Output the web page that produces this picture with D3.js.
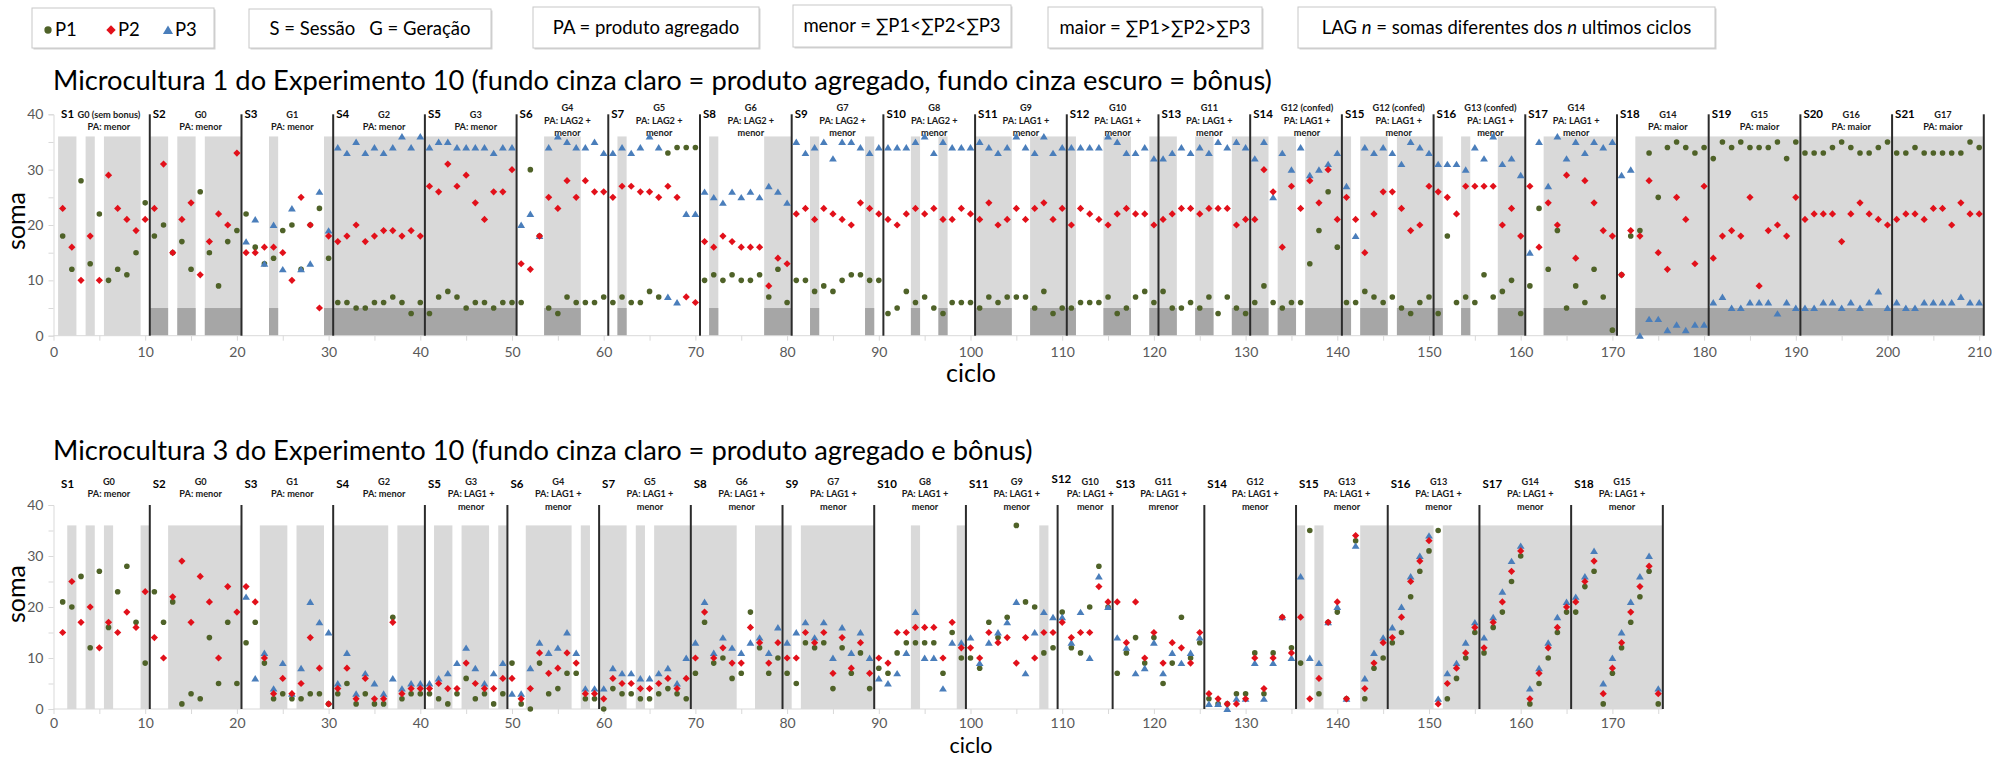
<!DOCTYPE html>
<html>
<head>
<meta charset="utf-8">
<script src="https://cdn.jsdelivr.net/npm/d3@7"></script>
<style>
  body { margin: 0; background: #fff; }
  svg { display: block; font-family: Lato, "Open Sans", sans-serif; }
</style>
</head>
<body>
<div id="graphic"></div>
<script>
// ---------- DATA: Microcultura 1 (cycles 1..210) ----------
const topP1 = [
  18, 12, 28, 13, 22, 10, 12, 11, 15, 24,
  18, 20, 15, 17, 12, 26, 15, 9, 17, 19,
  22, 16, 13, 14, 19, 20, 12, 20, 23, 14,
  6, 6, 5, 5, 6, 6, 7, 6, 4, 6,
  4, 7, 8, 7, 5, 6, 6, 5, 6, 6,
  6, 30, 18, 5, 4, 7, 6, 6, 6, 7,
  6, 7, 6, 6, 8, 7, 33, 34, 34, 34,
  10, 11, 10, 11, 10, 10, 11, 7, 12, 6,
  10, 10, 8, 9, 8, 10, 11, 11, 10, 10,
  4, 5, 8, 6, 7, 5, 4, 6, 6, 6,
  5, 7, 6, 7, 7, 7, 5, 8, 4, 5,
  5, 6, 6, 6, 7, 4, 5, 7, 8, 6,
  8, 5, 5, 6, 5, 7, 4, 7, 5, 4,
  6, 9, 6, 5, 6, 6, 13, 19, 26, 16,
  6, 6, 8, 7, 6, 7, 5, 4, 6, 7,
  4, 18, 6, 7, 6, 11, 7, 8, 10, 4,
  9, 23, 12, 19, 5, 9, 6, 12, 7, 1,
  11, 18, 19, 33, 25, 34, 35, 34, 33, 34,
  32, 35, 34, 35, 34, 34, 34, 35, 32, 35,
  33, 33, 33, 34, 35, 34, 33, 33, 34, 35,
  33, 33, 34, 33, 33, 33, 33, 33, 35, 34
];
const topP2 = [
  23, 16, 10, 18, 10, 29, 23, 21, 19, 21,
  23, 31, 15, 21, 24, 11, 17, 22, 20, 33,
  15, 15, 16, 16, 15, 10, 25, 20, 5, 18,
  17, 18, 20, 17, 18, 19, 19, 18, 19, 18,
  27, 26, 31, 27, 29, 24, 21, 26, 26, 30,
  13, 12, 18, 25, 23, 28, 25, 28, 26, 26,
  25, 27, 27, 26, 26, 25, 27, 25, 7, 6,
  17, 16, 18, 17, 16, 16, 16, 9, 14, 13,
  22, 23, 21, 23, 22, 21, 20, 24, 23, 22,
  21, 20, 22, 23, 22, 23, 21, 21, 23, 22,
  21, 24, 20, 21, 23, 21, 23, 24, 21, 23,
  20, 23, 22, 21, 20, 22, 23, 22, 22, 20,
  21, 22, 23, 23, 22, 23, 23, 23, 20, 21,
  21, 30, 26, 16, 27, 23, 28, 24, 30, 21,
  25, 21, 15, 22, 26, 26, 23, 19, 20, 27,
  26, 25, 22, 27, 27, 27, 27, 20, 23, 18,
  27, 16, 24, 20, 29, 14, 28, 24, 19, 18,
  11, 19, 18, 28, 15, 12, 25, 21, 13, 27,
  14, 18, 19, 18, 25, 9, 19, 20, 18, 25,
  21, 22, 22, 22, 17, 22, 24, 22, 21, 20,
  21, 22, 22, 21, 23, 23, 20, 24, 22, 22
];
const topP3 = [
  null, null, null, null, null, null, null, null, null, null,
  null, null, null, null, null, null, null, null, null, null,
  17, 21, 13, 20, 12, 23, 12, 13, 26, 19,
  34, 33, 35, 33, 34, 33, 34, 36, 34, 36,
  34, 35, 35, 34, 34, 34, 34, 33, 34, 34,
  20, 22, 18, 34, 36, 35, 34, 34, 35, 33,
  33, 34, 33, 34, 36, 34, 7, 6, 22, 22,
  26, 25, 24, 26, 25, 26, 25, 27, 26, 24,
  35, 33, 34, 35, 32, 35, 35, 34, 33, 34,
  34, 34, 34, 35, 36, 33, 35, 34, 34, 34,
  35, 34, 33, 34, 36, 34, 33, 36, 33, 34,
  34, 34, 34, 34, 36, 35, 33, 33, 34, 32,
  32, 33, 34, 33, 34, 33, 35, 34, 35, 34,
  32, 35, 25, 33, 30, 34, 29, 30, 31, 33,
  27, 18, 34, 33, 34, 33, 31, 35, 34, 33,
  31, 31, 31, 30, 34, 32, 36, 31, 32, 29,
  15, 35, 27, 36, 32, 35, 33, 35, 34, 35,
  29, 30, 0, 3, 3, 1, 2, 1, 2, 2,
  6, 7, 5, 5, 6, 6, 6, 4, 6, 5,
  5, 5, 6, 6, 5, 6, 5, 6, 8, 5,
  6, 5, 5, 6, 6, 6, 6, 7, 6, 6
];
// cycles with "produto agregado" (light) and "bonus" (dark), [first, last]
const topLight = [[1, 2], [4, 4], [6, 9], [11, 12], [14, 15], [17, 20], [24, 24], [30, 50],
  [54, 57], [62, 62], [72, 72], [78, 80], [83, 83], [89, 89], [94, 94], [97, 97], [101, 104],
  [107, 111], [115, 117], [120, 122], [125, 126], [129, 132], [134, 135], [137, 141],
  [143, 145], [147, 151], [154, 154], [158, 160], [163, 170], [173, 210]];
const topDark = topLight.slice(3);
const topSessions = [0.5, 10.5, 20.5, 30.5, 40.5, 50.5, 60.5, 70.5, 80.5, 90.5, 100.5,
  110.5, 120.5, 130.5, 140.5, 150.5, 160.5, 170.5, 180.5, 190.5, 200.5, 210.5];
const topGroups = [
  ["G0 (sem bonus)", "PA: menor"], ["G0", "PA: menor"], ["G1", "PA: menor"],
  ["G2", "PA: menor"], ["G3", "PA: menor"],
  ["G4", "PA: LAG2 +", "menor"], ["G5", "PA: LAG2 +", "menor"], ["G6", "PA: LAG2 +", "menor"],
  ["G7", "PA: LAG2 +", "menor"], ["G8", "PA: LAG2 +", "menor"],
  ["G9", "PA: LAG1 +", "menor"], ["G10", "PA: LAG1 +", "menor"], ["G11", "PA: LAG1 +", "menor"],
  ["G12 (confed)", "PA: LAG1 +", "menor"], ["G12 (confed)", "PA: LAG1 +", "menor"],
  ["G13 (confed)", "PA: LAG1 +", "menor"], ["G14", "PA: LAG1 +", "menor"],
  ["G14", "PA: maior"], ["G15", "PA: maior"], ["G16", "PA: maior"], ["G17", "PA: maior"]
];
const topXTicks = [0, 10, 20, 30, 40, 50, 60, 70, 80, 90, 100, 110, 120, 130, 140, 150,
  160, 170, 180, 190, 200, 210];

// ---------- DATA: Microcultura 3 (cycles 1..175) ----------
const botP1 = [
  21, 20, 26, 12, 27, 16, 23, 28, 17, 9,
  23, 17, 21, 1, 3, 2, 14, 5, 17, 5,
  13, 17, 9, 2, 3, 2, 2, 3, 3, 1,
  3, 5, 1, 3, 1, 1, 18, 2, 3, 3,
  3, 2, 1, 3, 6, 2, 3, 1, 3, 9,
  1, 0, 9, 3, 4, 7, 7, 2, 2, 0,
  4, 3, 3, 2, 2, 3, 4, 3, 2, 7,
  17, 9, 10, 6, 7, 19, 12, 7, 10, 7,
  5, 13, 12, 13, 4, 12, 7, 11, 4, 8,
  7, 11, 13, 13, 13, 13, 7, 15, 10, 10,
  8, 17, 14, 18, 36, 21, 20, 11, 12, 19,
  12, 11, 20, 28, 20, 7, 11, 14, 9, 14,
  5, 9, 18, 10, 13, 2, 1, 1, 3, 3,
  11, 3, 11, 18, 12, 9, 35, 3, 17, 19,
  2, 33, 2, 8, 10, 13, 15, 22, 27, 31,
  35, 2, 6, 10, 15, 11, 16, 19, 25, 30,
  1, 5, 10, 15, 19, 19, 24, 27, 1, 7,
  12, 17, 22, 27, 1
];
const botP2 = [
  15, 25, 17, 20, 12, 17, 15, 19, 16, 23,
  14, 10, 22, 29, 17, 26, 21, 10, 24, 19,
  24, 21, 10, 3, 6, 3, 5, 14, 8, 1,
  4, 8, 2, 6, 2, 2, 17, 3, 4, 4,
  4, 5, 4, 4, 9, 5, 4, 4, 6, 6,
  2, 4, 11, 7, 8, 11, 9, 3, 3, 2,
  6, 5, 5, 4, 4, 5, 6, 4, 6, 10,
  19, 10, 12, 9, 9, 16, 13, 9, 13, 10,
  10, 15, 13, 15, 7, 14, 8, 13, 7, 10,
  9, 15, 15, 16, 16, 16, 10, 17, 12, 12,
  10, 15, 13, 14, 9, 14, 10, 15, 15, 17,
  14, 15, 15, 24, 21, 21, 13, 21, 10, 15,
  9, 13, 12, 9, 15, 3, 2, 1, 1, 2,
  10, 4, 10, 18, 11, 18, 2, 6, 17, 21,
  2, 34, 4, 9, 13, 14, 18, 25, 29, 33,
  1, 5, 8, 11, 16, 12, 17, 21, 27, 31,
  2, 7, 12, 16, 20, 21, 25, 29, 3, 8,
  13, 19, 24, 28, 3
];
const botP3 = [
  null, null, null, null, null, null, null, null, null, null,
  null, null, null, null, null, null, null, null, null, null,
  22, 6, 11, 4, 9, 3, 8, 21, 17, 15,
  5, 11, 3, 7, 5, 3, 6, 4, 5, 5,
  5, 6, 7, 9, 12, 8, 5, 7, 9, 3,
  3, 8, 13, 11, 12, 15, 11, 4, 4, 4,
  8, 7, 7, 6, 6, 7, 8, 5, 10, 13,
  21, 11, 14, 12, 11, 13, 14, 11, 16, 13,
  15, 17, 14, 17, 10, 16, 11, 15, 10, 6,
  5, 7, 11, 19, 10, 10, 4, 13, 13, 14,
  9, 13, 15, 17, 21, 7, 15, 19, 18, 18,
  13, 19, 10, 26, 20, 14, 12, 7, 8, 13,
  7, 11, 9, 11, 14, 1, 1, 0, 2, 2,
  9, 2, 9, 18, 10, 26, 10, 9, 17, 20,
  2, 32, 6, 11, 14, 16, 20, 26, 30, 34,
  2, 7, 9, 13, 17, 14, 18, 23, 29, 32,
  4, 8, 13, 18, 21, 22, 26, 31, 5, 10,
  15, 21, 26, 30, 4
];
const botLight = [[2, 2], [4, 4], [6, 6], [10, 10], [13, 20], [23, 25], [27, 29], [31, 36],
  [38, 40], [42, 43], [45, 47], [49, 49], [52, 56], [58, 58], [60, 62], [64, 64], [66, 74],
  [77, 80], [82, 89], [94, 94], [99, 99], [108, 108], [136, 136], [138, 138], [143, 150],
  [152, 175]];
const botSessions = [0.5, 10.5, 20.5, 30.5, 40.5, 49.5, 59.5, 69.5, 79.5, 89.5, 99.5,
  109.5, 115.5, 125.5, 135.5, 145.5, 155.5, 165.5, 175.5];
const botGroups = [
  ["G0", "PA: menor"], ["G0", "PA: menor"], ["G1", "PA: menor"], ["G2", "PA: menor"],
  ["G3", "PA: LAG1 +", "menor"], ["G4", "PA: LAG1 +", "menor"], ["G5", "PA: LAG1 +", "menor"],
  ["G6", "PA: LAG1 +", "menor"], ["G7", "PA: LAG1 +", "menor"], ["G8", "PA: LAG1 +", "menor"],
  ["G9", "PA: LAG1 +", "menor"], ["G10", "PA: LAG1 +", "menor"], ["G11", "PA: LAG1 +", "mrenor"],
  ["G12", "PA: LAG1 +", "menor"], ["G13", "PA: LAG1 +", "menor"], ["G13", "PA: LAG1 +", "menor"],
  ["G14", "PA: LAG1 +", "menor"], ["G15", "PA: LAG1 +", "menor"]
];
const botXTicks = [0, 10, 20, 30, 40, 50, 60, 70, 80, 90, 100, 110, 120, 130, 140, 150, 160, 170];
const yTicks = [0, 10, 20, 30, 40];

// ---------- STYLE ----------
const colors = { P1: "#4f6228", P2: "#e2101a", P3: "#4a7ebb" };
const shapes = {
  P1: "M2.8,0A2.8,2.8 0 1,1 -2.8,0A2.8,2.8 0 1,1 2.8,0Z",
  P2: "M0,-3.6L3.6,0L0,3.6L-3.6,0Z",
  P3: "M0,-3.4L3.9,3L-3.9,3Z"
};

const svg = d3.select("#graphic").append("svg")
  .attr("width", 1992).attr("height", 758);

// LEGEND BOXES
const boxes = [
  { x: 32, y: 8, w: 182, h: 40 },
  { x: 249, y: 9, w: 242, h: 39, text: "S = Sessão   G = Geração" },
  { x: 533, y: 7, w: 226, h: 41, text: "PA = produto agregado" },
  { x: 793, y: 5, w: 218, h: 42, text: "menor = ∑P1<∑P2<∑P3" },
  { x: 1048, y: 7, w: 214, h: 41, text: "maior = ∑P1>∑P2>∑P3" },
  { x: 1298, y: 7, w: 417, h: 41, lag: true }
];
const legend = svg.append("g");
boxes.forEach(b => {
  legend.append("rect").attr("x", b.x + 1.5).attr("y", b.y + 1.5)
    .attr("width", b.w).attr("height", b.h).attr("fill", "#d4d4d4");
  legend.append("rect").attr("x", b.x).attr("y", b.y)
    .attr("width", b.w).attr("height", b.h)
    .attr("fill", "#fff").attr("stroke", "#c8c8c8");
  const t = legend.append("text")
    .attr("x", b.x + b.w / 2).attr("y", b.y + b.h / 2 + 6)
    .attr("text-anchor", "middle")
    .style("font-size", "18.5px").style("white-space", "pre").attr("fill", "#000");
  if (b.text) t.text(b.text);
  if (b.lag) {
    t.append("tspan").text("LAG ");
    t.append("tspan").style("font-style", "italic").text("n");
    t.append("tspan").text(" = somas diferentes dos ");
    t.append("tspan").style("font-style", "italic").text("n");
    t.append("tspan").text(" ultimos ciclos");
  }
});
// series key inside first box
const keyItems = [["P1", 48], ["P2", 111], ["P3", 168]];
keyItems.forEach(([k, kx]) => {
  legend.append("path").attr("d", shapes[k]).attr("fill", colors[k])
    .attr("transform", `translate(${kx},30) scale(1.3)`);
  legend.append("text").attr("x", kx + 7).attr("y", 36)
    .style("font-size", "18.5px").text(k);
});

// TITLES
svg.append("text").attr("x", 53).attr("y", 90).style("font-size", "27.3px")
  .text("Microcultura 1 do Experimento 10 (fundo cinza claro = produto agregado, fundo cinza escuro = bônus)");
svg.append("text").attr("x", 53).attr("y", 460).style("font-size", "27.3px")
  .text("Microcultura 3 do Experimento 10 (fundo cinza claro = produto agregado e bônus)");

function drawChart(c) {
  const x = d3.scaleLinear().domain([0, c.xMax]).range([53.5, 53.5 + 9.17 * c.xMax]);
  const y = d3.scaleLinear().domain([0, 40]).range([c.bottom, c.top]);
  const g = svg.append("g");

  // backgrounds
  g.append("g").selectAll("rect").data(c.light).join("rect")
    .attr("x", d => x(d[0] - 0.5)).attr("width", d => x(d[1] + 0.5) - x(d[0] - 0.5))
    .attr("y", y(36)).attr("height", y(0) - y(36)).attr("fill", "#d9d9d9");
  g.append("g").selectAll("rect").data(c.dark).join("rect")
    .attr("x", d => x(d[0] - 0.5)).attr("width", d => x(d[1] + 0.5) - x(d[0] - 0.5))
    .attr("y", y(5)).attr("height", y(0) - y(5)).attr("fill", "#a6a6a6");

  // axes
  const xAxis = g.append("g").attr("transform", `translate(0,${y(0)})`)
    .call(d3.axisBottom(x).tickValues(d3.range(0, c.xMax, 5)).tickSize(5).tickPadding(c.xPad)
      .tickFormat(d => c.xTicks.includes(d) ? d : ""));
  const yAxis = g.append("g").attr("transform", `translate(${x(0)},0)`)
    .call(d3.axisLeft(y).tickValues(d3.range(0, 41, 5)).tickSize(5).tickPadding(5)
      .tickFormat(d => yTicks.includes(d) ? d : ""));
  [xAxis, yAxis].forEach(a => {
    a.select(".domain").attr("stroke", "#d9d9d9");
    a.selectAll(".tick line").attr("stroke", "#d9d9d9");
    a.selectAll(".tick text").attr("fill", "#595959").style("font-size", "14px")
      .style("font-family", "Lato, sans-serif");
  });
  xAxis.select(".domain").attr("d", `M${x(0)},0H${x(c.xMax)}`);

  // session lines
  g.append("g").selectAll("line").data(c.sessions.slice(1)).join("line")
    .attr("x1", d => x(d)).attr("x2", d => x(d))
    .attr("y1", y(40)).attr("y2", y(0))
    .attr("stroke", "#2b2b2b").attr("stroke-width", 2);

  // session labels
  const sess = c.groups.map((lines, i) => ({
    i, lines, x0: c.sessions[i], x1: c.sessions[i + 1], n: c.nudge[i] || [0, 0, 0]
  }));
  g.append("g").selectAll("text").data(sess).join("text")
    .attr("x", d => x(d.x0) + 3 + d.n[0])
    .attr("y", d => c.sY + d.n[1])
    .style("font-size", "11.5px").style("font-weight", "bold")
    .text(d => "S" + (d.i + 1));
  const grp = g.append("g").selectAll("text").data(sess).join("text")
    .attr("text-anchor", "middle")
    .style("font-size", "9.2px").style("font-weight", "bold").attr("fill", "#1a1a1a");
  grp.each(function (d) {
    const cx = (x(d.x0) + x(d.x1)) / 2 + 5 + d.n[2];
    const first = c.alignTop ? c.gY : c.gY - (d.lines.length - 1) * 12.4 / 2;
    d3.select(this).selectAll("tspan").data(d.lines).join("tspan")
      .attr("x", cx).attr("y", (t, j) => first + j * 12.4).text(t => t);
  });

  // markers (P1, P3, then P2 on top)
  ["P1", "P3", "P2"].forEach(k => {
    const pts = c.series[k].map((v, i) => ({ c: i + 1, v })).filter(d => d.v !== null);
    g.append("g").selectAll("path").data(pts).join("path")
      .attr("d", shapes[k]).attr("fill", colors[k])
      .attr("transform", d => `translate(${x(d.c)},${y(d.v)})`);
  });

  // axis titles
  g.append("text").attr("transform", `translate(25,${c.somaY}) rotate(-90)`)
    .attr("text-anchor", "middle").style("font-size", "25px").text("soma");
  g.append("text").attr("x", 971).attr("y", c.cicloY)
    .attr("text-anchor", "middle").style("font-size", c.cicloSize).text("ciclo");
}

drawChart({
  xMax: 210.5, top: 114.3, bottom: 335.7,
  light: topLight, dark: topDark, sessions: topSessions, groups: topGroups,
  xTicks: topXTicks, series: { P1: topP1, P2: topP2, P3: topP3 },
  sY: 117.5, gY: 123.7, alignTop: false,
  nudge: { 13: [0, 0, 6], 14: [0, 0, 6], 15: [0, 0, 6] },
  xPad: 6, somaY: 221, cicloY: 382, cicloSize: "25px"
});
drawChart({
  xMax: 175.5, top: 505, bottom: 709,
  light: botLight, dark: [], sessions: botSessions, groups: botGroups,
  xTicks: botXTicks, series: { P1: botP1, P2: botP2, P3: botP3 },
  sY: 487.5, gY: 485, alignTop: true, nudge: { 11: [-9, -5, 0] },
  xPad: 4, somaY: 594, cicloY: 753.3, cicloSize: "21.5px"
});
</script>
</body>
</html>
